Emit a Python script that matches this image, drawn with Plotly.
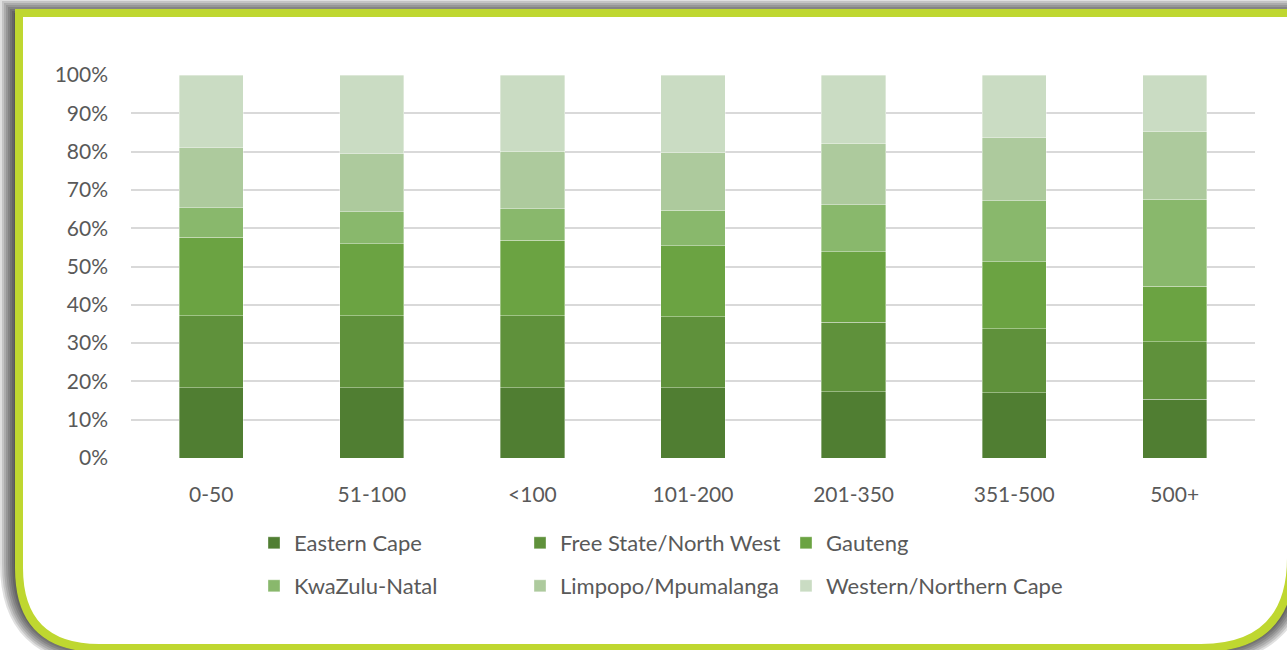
import plotly.graph_objects as go

# Household size bands and regional share (%) within each band
categories = ["0-50", "51-100", "<100", "101-200", "201-350", "351-500", "500+"]

eastern_cape = [18.3, 18.3, 18.3, 18.3, 17.3, 17.1, 15.3]
free_state_nw = [18.8, 18.8, 18.8, 18.6, 18.2, 16.7, 15.0]
gauteng = [20.6, 18.8, 19.8, 18.5, 18.3, 17.4, 14.6]
kwazulu_natal = [7.6, 8.4, 8.2, 9.3, 12.3, 16.0, 22.6]
limpopo_mpumalanga = [15.7, 15.1, 15.0, 15.0, 16.1, 16.4, 17.8]
western_northern_cape = [19.0, 20.6, 19.9, 20.3, 17.8, 16.4, 14.7]

series_names = ["Eastern Cape", "Free State/North West", "Gauteng",
                "KwaZulu-Natal", "Limpopo/Mpumalanga", "Western/Northern Cape"]
series_values = [eastern_cape, free_state_nw, gauteng,
                 kwazulu_natal, limpopo_mpumalanga, western_northern_cape]
series_colors = ["#507e32", "#5f913b", "#6ba342", "#89b86c", "#adca9d", "#cadcc3"]

y_ticks = list(range(0, 101, 10))
y_tick_labels = [f"{v}%" for v in y_ticks]

FONT = "Lato"
TEXT_COLOR = "#595959"

W, H = 1287, 650
ML, MR, MT, MB = 131, 32, 75, 192
PW, PH = W - ML - MR, H - MT - MB


def px(x):
    return (x - ML) / PW


def py(y):
    return (H - MB - y) / PH


def frame_path(left, top, right, bottom, r_bl, r_br):
    """Rectangle with square top corners and rounded bottom corners."""
    return (
        f"M {px(left)},{py(top)} "
        f"L {px(right)},{py(top)} "
        f"L {px(right)},{py(bottom - r_br)} "
        f"Q {px(right)},{py(bottom)} {px(right - r_br)},{py(bottom)} "
        f"L {px(left + r_bl)},{py(bottom)} "
        f"Q {px(left)},{py(bottom)} {px(left)},{py(bottom - r_bl)} Z"
    )


fig = go.Figure()

for i, (name, vals, col) in enumerate(zip(series_names, series_values, series_colors)):
    # the last entry of each legend row may be wider than the column slot
    last_in_row = i in (2, 5)
    fig.add_trace(go.Bar(
        x=categories,
        y=vals,
        name=name,
        marker=dict(color=col, line=dict(color="rgba(255,255,255,0.45)", width=0.8)),
        legend="legend" if i < 3 else "legend2",
        legendwidth=260 if last_in_row else None,
        hovertemplate="%{x}: %{y:.1f}%<extra>" + name + "</extra>",
    ))

shapes = []
# soft drop shadow around the card
for k in range(8, 0, -1):
    shapes.append(dict(
        type="path", xref="paper", yref="paper", layer="below",
        path=frame_path(16, 15, 1294, 648, 84, 94),
        line=dict(color="rgba(0,0,0,0.12)", width=2 * k * 2),
        fillcolor="rgba(0,0,0,0)",
    ))
# white card body with lime border
shapes.append(dict(
    type="path", xref="paper", yref="paper", layer="below",
    path=frame_path(19, 13, 1291, 648, 80, 90),
    line=dict(color="#bfd730", width=8),
    fillcolor="white",
))

legend_common = dict(
    orientation="h",
    xanchor="left",
    yanchor="middle",
    entrywidth=221,
    entrywidthmode="pixels",
    font=dict(family=FONT, size=22, color=TEXT_COLOR),
    bgcolor="rgba(0,0,0,0)",
    traceorder="normal",
)

fig.update_layout(
    width=W, height=H,
    margin=dict(l=ML, r=MR, t=MT, b=MB, pad=0),
    paper_bgcolor="white",
    plot_bgcolor="rgba(0,0,0,0)",
    barmode="stack",
    bargap=0.6,
    font=dict(family=FONT, size=21, color=TEXT_COLOR),
    showlegend=True,
    legend=dict(x=px(254), y=py(543), **legend_common),
    legend2=dict(x=px(254), y=py(586), **legend_common),
    xaxis=dict(
        type="category",
        categoryorder="array",
        categoryarray=categories,
        showgrid=False,
        showline=False,
        ticks="",
        ticklabelstandoff=22,
        tickfont=dict(family=FONT, size=21, color=TEXT_COLOR),
    ),
    yaxis=dict(
        range=[0, 100],
        tickvals=y_ticks,
        ticktext=y_tick_labels,
        showgrid=True,
        gridcolor="#d9d9d9",
        gridwidth=1.5,
        zeroline=False,
        showline=False,
        ticks="",
        ticklabelstandoff=22,
        tickfont=dict(family=FONT, size=21, color=TEXT_COLOR),
    ),
    shapes=shapes,
)

fig.write_html("out.html")
